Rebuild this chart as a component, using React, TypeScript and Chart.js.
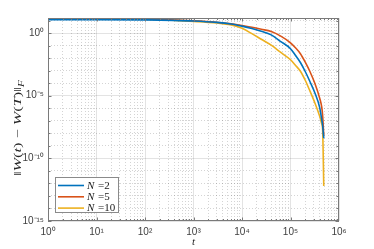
import React, { useEffect, useRef } from "react";
import { Chart, registerables } from "chart.js";

Chart.register(...registerables);

// time steps t
const tValues = [1, 10, 100, 1000, 3000, 6000, 1e4, 1.6e4, 2.5e4, 4e4, 6.3e4, 1e5, 1.25e5, 1.6e5, 2e5, 2.5e5, 3.2e5, 4e5, 4.4e5, 4.6e5, 4.85e5];

const seriesNames = ["2", "5", "10"];

// ||W(t) - W(T)||_F
const errN2 = [11.75, 11.75, 11.22, 9.12, 7.08, 5.25, 3.55, 2.29, 1.38, 0.708, 0.209, 0.0562, 0.0178, 4.47e-3, 8.91e-4, 1.41e-4, 1.58e-5, 1.12e-6, 1.26e-7, 3.98e-8, 3.98e-9];
const errN5 = [14.79, 14.45, 13.18, 9.55, 7.24, 5.37, 3.98, 2.88, 2.0, 1.32, 0.562, 0.166, 0.0708, 0.0224, 5.01e-3, 8.91e-4, 8.91e-5, 6.31e-6, 1.26e-6, 2.51e-7, 6.31e-9];
const errN10 = [14.79, 14.45, 12.88, 8.51, 6.31, 4.37, 2.4, 0.891, 0.316, 0.107, 0.0282, 7.41e-3, 2.82e-3, 8.91e-4, 1.78e-4, 2.51e-5, 2.51e-6, 2.24e-7, 5.62e-8, 1.78e-8, 6.31e-13];

const xMin = 1;
const xMax = 1e6;
const yMin = 1e-15;
const yMax = 15.85;
const yLabelExponents = [-15, -10, -5, 0];

const SUP: Record<string, string> = {
  "0": "⁰", "1": "¹", "2": "²", "3": "³", "4": "⁴", "5": "⁵",
  "6": "⁶", "7": "⁷", "8": "⁸", "9": "⁹", "-": "⁻",
};
const sup = (n: number) => String(n).split("").map((c) => SUP[c]).join("");

const isPow10 = (v: number) => {
  const l = Math.log10(v);
  return Math.abs(l - Math.round(l)) < 1e-9;
};

const COLORS = ["#0072BD", "#D95319", "#EDB120"];
const MAJOR_GRID = "rgba(38,38,38,0.13)";
const MINOR_GRID = "rgba(38,38,38,0.2)";
const AXIS_COLOR = "#7a7a7a";
const TEXT_COLOR = "#404040";

export default function App() {
  const ref = useRef<HTMLCanvasElement>(null);

  useEffect(() => {
    const canvas = ref.current;
    if (!canvas) return;
    const seriesData = [errN2, errN5, errN10];
    const datasets = seriesData.map((arr, i) => ({
      label: "N =" + seriesNames[i],
      data: tValues.map((t, j) => ({ x: t, y: arr[j] })),
      borderColor: COLORS[i],
      backgroundColor: COLORS[i],
      borderWidth: 1.6,
      pointRadius: 0,
      cubicInterpolationMode: "monotone" as const,
      fill: false,
    }));

    const extras = {
      id: "extras",
      afterDraw(chart: any) {
        const ctx: CanvasRenderingContext2D = chart.ctx;
        const { left, right, top, bottom } = chart.chartArea;
        const xs = chart.scales.x;
        const ys = chart.scales.y;
        ctx.save();
        // box
        ctx.strokeStyle = AXIS_COLOR;
        ctx.lineWidth = 1;
        ctx.strokeRect(Math.round(left) + 0.5, Math.round(top) + 0.5, Math.round(right - left) - 1, Math.round(bottom - top) - 1);
        // inward ticks
        ctx.beginPath();
        for (let k = 0; k <= 5; k++) {
          for (let m = 1; m <= 9; m++) {
            const v = m * Math.pow(10, k);
            const px = Math.round(xs.getPixelForValue(v)) + 0.5;
            const len = m === 1 ? 3.5 : 2;
            ctx.moveTo(px, bottom);
            ctx.lineTo(px, bottom - len);
            ctx.moveTo(px, top);
            ctx.lineTo(px, top + len);
          }
        }
        for (let e = -15; e <= 1; e++) {
          const py = Math.round(ys.getPixelForValue(Math.pow(10, e))) + 0.5;
          const len = e % 5 === 0 ? 3.5 : 2.5;
          ctx.moveTo(left, py);
          ctx.lineTo(left + len, py);
          ctx.moveTo(right, py);
          ctx.lineTo(right - len, py);
        }
        ctx.stroke();

        // legend
        const lx = left + 7, ly = 177, lw = 63, lh = 35;
        ctx.fillStyle = "#ffffff";
        ctx.fillRect(lx, ly, lw, lh);
        ctx.strokeStyle = "#8a8a8a";
        ctx.strokeRect(lx + 0.5, ly + 0.5, lw, lh);
        chart.data.datasets.forEach((ds: any, i: number) => {
          const ry = ly + 8.5 + i * 11.3;
          ctx.strokeStyle = ds.borderColor;
          ctx.lineWidth = 1.6;
          ctx.beginPath();
          ctx.moveTo(lx + 3, ry);
          ctx.lineTo(lx + 29, ry);
          ctx.stroke();
          ctx.fillStyle = "#1a1a1a";
          ctx.textBaseline = "middle";
          ctx.textAlign = "left";
          ctx.font = "italic 11px 'Liberation Serif'";
          ctx.fillText("N", lx + 32, ry + 0.5);
          const w = ctx.measureText("N").width;
          ctx.font = "11px 'Liberation Serif'";
          ctx.fillText(" =" + seriesNames[i], lx + 32 + w + 1, ry + 0.5);
        });

        // x title
        ctx.fillStyle = "#262626";
        ctx.font = "italic 11px 'Liberation Serif'";
        ctx.textAlign = "center";
        ctx.textBaseline = "middle";
        ctx.fillText("t", (left + right) / 2, 242);

        // y title
        const parts: [string, boolean][] = [
          ["‖", false], ["W", true], ["(", false], ["t", true], [")", false],
          [" − ", false], ["W", true], ["(", false], ["T", true], [")", false], ["‖", false],
        ];
        const fontFor = (it: boolean) => (it ? "italic " : "") + "11px 'Liberation Serif'";
        let natural = 0;
        parts.forEach(([s, it]) => { ctx.font = fontFor(it); natural += ctx.measureText(s).width; });
        ctx.font = "italic 8px 'Liberation Serif'";
        const fw = ctx.measureText("F").width;
        natural += fw;
        const target = 96;
        ctx.translate(17, 128);
        ctx.rotate(-Math.PI / 2);
        ctx.scale(target / natural, 1);
        ctx.textAlign = "left";
        ctx.textBaseline = "alphabetic";
        let cx = -natural / 2;
        parts.forEach(([s, it]) => {
          ctx.font = fontFor(it);
          ctx.fillText(s, cx, 4);
          cx += ctx.measureText(s).width;
        });
        ctx.font = "italic 8px 'Liberation Serif'";
        ctx.fillText("F", cx, 6.5);
        ctx.restore();
      },
    };

    const chart = new Chart(canvas, {
      type: "line",
      data: { datasets } as any,
      options: {
        responsive: false,
        animation: false,
        devicePixelRatio: 1,
        layout: { padding: { top: 18, right: 35, left: 0, bottom: 0 } },
        plugins: { legend: { display: false }, tooltip: { enabled: false } },
        scales: {
          x: {
            type: "logarithmic",
            min: xMin,
            max: xMax,
            afterBuildTicks: (s: any) => {
              const t: any[] = [];
              for (let k = 0; k <= 5; k++) for (let m = 1; m <= 9; m++) t.push({ value: m * Math.pow(10, k) });
              t.push({ value: xMax });
              s.ticks = t;
            },
            afterFit: (s: any) => { s.height = 28; },
            ticks: {
              autoSkip: false,
              maxRotation: 0,
              minRotation: 0,
              padding: 5,
              color: TEXT_COLOR,
              font: { family: "'Liberation Sans'", size: 10 },
              callback: (v: any) => (isPow10(Number(v)) ? "10" + sup(Math.round(Math.log10(Number(v)))) : ""),
            },
            grid: {
              drawTicks: false,
              lineWidth: 1,
              color: (c: any) => (c.tick && isPow10(c.tick.value) ? MAJOR_GRID : MINOR_GRID),
            },
            border: {
              display: false,
              dash: (c: any) => (c.tick && !isPow10(c.tick.value) ? [1, 2] : []),
            },
          } as any,
          y: {
            type: "logarithmic",
            min: yMin,
            max: yMax,
            afterBuildTicks: (s: any) => {
              const t: any[] = [];
              for (let e = -15; e <= 1; e++) t.push({ value: Math.pow(10, e) });
              s.ticks = t;
            },
            afterFit: (s: any) => { s.width = 48; },
            ticks: {
              autoSkip: false,
              padding: 4,
              color: TEXT_COLOR,
              font: { family: "'Liberation Sans'", size: 10 },
              callback: (v: any) => {
                const e = Math.round(Math.log10(Number(v)));
                return yLabelExponents.includes(e) ? "10" + sup(e) : "";
              },
            },
            grid: {
              drawTicks: false,
              lineWidth: 1,
              color: (c: any) => {
                if (!c.tick) return MAJOR_GRID;
                const e = Math.round(Math.log10(c.tick.value));
                return e % 5 === 0 ? MAJOR_GRID : MINOR_GRID;
              },
            },
            border: {
              display: false,
              dash: (c: any) => {
                if (!c.tick) return [];
                const e = Math.round(Math.log10(c.tick.value));
                return e % 5 === 0 ? [] : [1, 2];
              },
            },
          } as any,
        },
      },
      plugins: [extras],
    });
    return () => chart.destroy();
  }, []);

  return (
    <div style={{ position: "fixed", left: 0, top: 0, width: 374, height: 249, background: "#ffffff" }}>
      <canvas ref={ref} width={374} height={249} style={{ display: "block", width: 374, height: 249 }} />
    </div>
  );
}
